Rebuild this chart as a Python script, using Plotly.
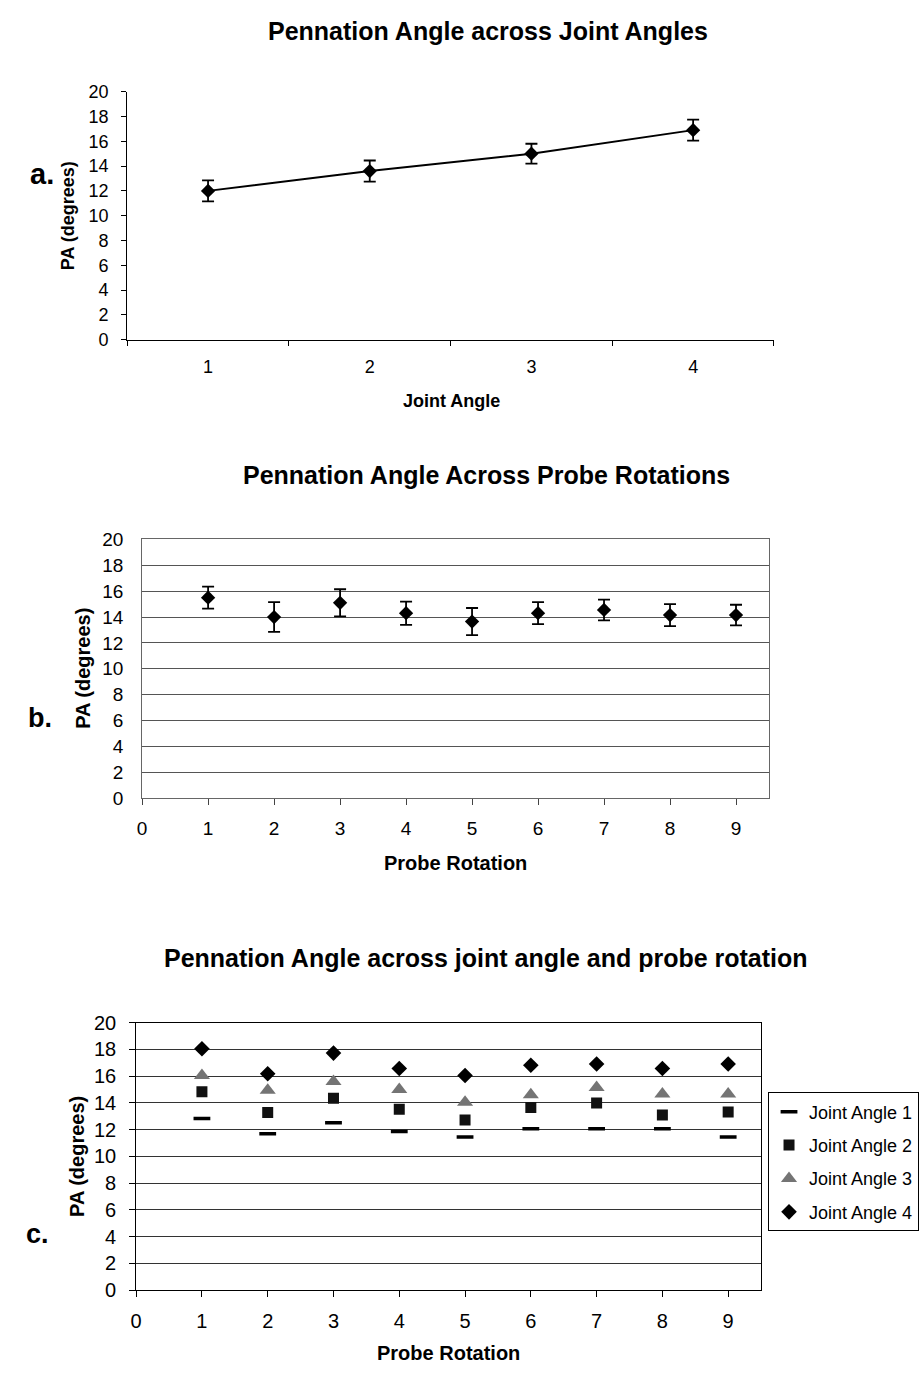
import plotly.graph_objects as go

# ---- data ----
joint_angles = ["1", "2", "3", "4"]
pa_joint_mean = [12.0, 13.6, 15.0, 16.9]
pa_joint_err = [0.85, 0.85, 0.8, 0.85]

rotations = [1, 2, 3, 4, 5, 6, 7, 8, 9]
pa_rot_mean = [15.5, 14.0, 15.1, 14.3, 13.65, 14.3, 14.55, 14.15, 14.15]
pa_rot_err = [0.85, 1.15, 1.05, 0.9, 1.05, 0.85, 0.8, 0.85, 0.8]

ja1 = [12.84, 11.69, 12.52, 11.86, 11.45, 12.06, 12.06, 12.06, 11.45]
ja2 = [14.83, 13.28, 14.34, 13.53, 12.72, 13.65, 14.0, 13.09, 13.31]
ja3 = [16.05, 14.95, 15.59, 15.0, 14.04, 14.6, 15.15, 14.66, 14.66]
ja4 = [18.04, 16.18, 17.72, 16.57, 16.05, 16.81, 16.91, 16.57, 16.91]

y_ticks = list(range(0, 21, 2))

W, H = 922, 1377
FONT = "Arial, Liberation Sans, sans-serif"


def px_x(x):
    return x / W


def px_y(y):
    return 1 - y / H


fig = go.Figure()

# ---- panel a: mean PA per joint angle ----
fig.add_trace(go.Scatter(
    x=joint_angles, y=pa_joint_mean,
    mode="lines+markers",
    line=dict(color="black", width=2),
    marker=dict(symbol="diamond", size=11, color="black"),
    error_y=dict(type="data", array=pa_joint_err, color="black", thickness=1.8, width=6),
    xaxis="x", yaxis="y", showlegend=False,
))

# ---- panel b: mean PA per probe rotation ----
fig.add_trace(go.Scatter(
    x=rotations, y=pa_rot_mean,
    mode="markers",
    marker=dict(symbol="diamond", size=11, color="black"),
    error_y=dict(type="data", array=pa_rot_err, color="black", thickness=1.8, width=6),
    xaxis="x2", yaxis="y2", showlegend=False,
))

# ---- panel c: PA per joint angle and probe rotation ----
series_c = [
    ("Joint Angle 1", ja1, dict(symbol="line-ew", size=12, color="black",
                                line=dict(color="black", width=3.5))),
    ("Joint Angle 2", ja2, dict(symbol="square", size=11, color="#111111")),
    ("Joint Angle 3", ja3, dict(symbol="triangle-up", size=14, color="#747474")),
    ("Joint Angle 4", ja4, dict(symbol="diamond", size=12, color="black")),
]
for i, (name, vals, mk) in enumerate(series_c):
    fig.add_trace(go.Scatter(
        x=rotations, y=vals, mode="markers", name=name, marker=mk,
        xaxis="x3", yaxis="y3", legendgroup=f"g{i}",
    ))

axis_common = dict(showline=True, linecolor="black", linewidth=1, zeroline=False,
                   tickcolor="black", ticks="outside")

fig.update_layout(
    width=W, height=H,
    margin=dict(l=0, r=0, t=0, b=0),
    paper_bgcolor="white", plot_bgcolor="white",
    font=dict(family=FONT, color="black"),
    # panel a axes
    xaxis=dict(domain=[px_x(122), px_x(773)], anchor="y", type="category",
               range=[-0.5, 3.5], tickson="boundaries", ticklen=5, showgrid=False,
               tickfont=dict(size=18), ticklabelstandoff=11, **axis_common),
    yaxis=dict(domain=[px_y(334), px_y(82)], anchor="x", range=[0, 20],
               tickvals=y_ticks, ticklen=5, showgrid=False,
               tickfont=dict(size=18), ticklabelstandoff=9, **axis_common),
    # panel b axes
    xaxis2=dict(domain=[px_x(137), px_x(768)], anchor="y2", range=[0, 9.5],
                tickvals=list(range(0, 10)), ticklen=6, showgrid=False,
                mirror=True, tickfont=dict(size=19), ticklabelstandoff=7,
                showline=True, linecolor="#666666", linewidth=1, zeroline=False,
                tickcolor="#444444", ticks="outside"),
    yaxis2=dict(domain=[px_y(800), px_y(537)], anchor="x2", range=[0, 20],
                tickvals=y_ticks, ticks="", showgrid=True, gridcolor="#555555",
                gridwidth=1, mirror=True, tickfont=dict(size=19),
                ticklabelstandoff=14, showline=True, linecolor="#666666",
                linewidth=1, zeroline=False),
    # panel c axes
    xaxis3=dict(domain=[px_x(131), px_x(760)], anchor="y3", range=[0, 9.5],
                tickvals=list(range(0, 10)), ticklen=6, showgrid=False,
                mirror=True, tickfont=dict(size=20), ticklabelstandoff=7,
                **axis_common),
    yaxis3=dict(domain=[px_y(1300), px_y(1028)], anchor="x3", range=[0, 20],
                tickvals=y_ticks, ticklen=6, showgrid=True, gridcolor="#333333",
                gridwidth=1, mirror=True, tickfont=dict(size=20),
                ticklabelstandoff=9, **axis_common),
    legend=dict(x=px_x(919), y=px_y(1099), xanchor="right", yanchor="top",
                bordercolor="black", borderwidth=1, bgcolor="white",
                font=dict(size=18), tracegroupgap=7, itemsizing="trace"),
)

annotations = [
    # titles
    dict(text="<b>Pennation Angle across Joint Angles</b>", x=px_x(485), y=px_y(20), size=25),
    dict(text="<b>Pennation Angle Across Probe Rotations</b>", x=px_x(484), y=px_y(472), size=25),
    dict(text="<b>Pennation Angle across joint angle and probe rotation</b>", x=px_x(483), y=px_y(962), size=25),
    # x axis titles
    dict(text="<b>Joint Angle</b>", x=px_x(448), y=px_y(396), size=18),
    dict(text="<b>Probe Rotation</b>", x=px_x(452), y=px_y(866), size=20),
    dict(text="<b>Probe Rotation</b>", x=px_x(445), y=px_y(1364), size=20),
    # panel letters
    dict(text="<b>a.</b>", x=px_x(36), y=px_y(166), size=29),
    dict(text="<b>b.</b>", x=px_x(34), y=px_y(718), size=27),
    dict(text="<b>c.</b>", x=px_x(32), y=px_y(1243), size=27),
]
ann_objs = []
for a in annotations:
    ann_objs.append(dict(text=a["text"], x=a["x"], y=a["y"], xref="paper", yref="paper",
                         xanchor="center", yanchor="middle", showarrow=False,
                         font=dict(size=a["size"], family=FONT, color="black")))

# rotated y axis titles
for xc, yc, sz in [(62, 208, 18), (78, 668, 20), (72, 1164, 20)]:
    ann_objs.append(dict(text="<b>PA (degrees)</b>", x=px_x(xc), y=px_y(yc),
                         xref="paper", yref="paper", xanchor="center", yanchor="middle",
                         showarrow=False, textangle=-90,
                         font=dict(size=sz, family=FONT, color="black")))

fig.update_layout(annotations=ann_objs)

fig.write_html("out.html")
